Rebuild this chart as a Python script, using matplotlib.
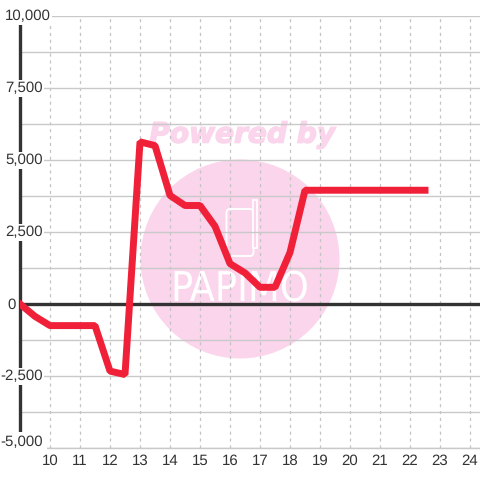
import matplotlib
matplotlib.use("Agg")
import matplotlib.pyplot as plt
import matplotlib.patheffects as pe
from matplotlib.patches import Circle, FancyBboxPatch, Rectangle

plt.rcParams['font.family'] = ['Liberation Sans', 'DejaVu Sans']
plt.rcParams['text.hinting'] = 'none'

x_values = [9, 9.5, 10, 10.5, 11, 11.5, 12, 12.5, 13, 13.5, 14, 14.5, 15, 15.5, 16, 16.5,
            17, 17.5, 18, 18.5, 19, 19.5, 20, 20.5, 21, 21.5, 22, 22.5]
y_values = [0, -430, -750, -750, -750, -750, -2330, -2450, 5630, 5500, 3770, 3420, 3420, 2700,
            1400, 1080, 580, 580, 1790, 3950, 3950, 3950, 3950, 3950, 3950, 3950, 3950, 3950]
x_ticks = list(range(10, 25))
y_grid = [-5000, -3750, -2500, -1250, 0, 1250, 2500, 3750, 5000, 6250, 7500, 8750, 10000]
y_label_values = [10000, 7500, 5000, 2500, 0, -2500, -5000]
y_label_texts = ['10,000', '7,500', '5,000', '2,500', '0', '-2,500', '-5,000']

W = 480.0
fig = plt.figure(figsize=(4.8, 4.8), dpi=100, facecolor='white')
ax = fig.add_axes([20 / W, 1 - 448 / W, 460 / W, 432 / W])
ax.set_zorder(5)
ax.patch.set_visible(False)
ax.set_xlim(9, 9 + 460 / 30)
ax.set_ylim(-5000, 10000)

# watermark
T = fig.transFigure
def fx(p): return p / W
def fy(p): return 1 - p / W
pink = '#fbd5ec'
fig.patches.append(Circle((fx(240), fy(259)), 99.5 / W, transform=T, fc=pink, ec='none', zorder=1))
fig.patches.append(FancyBboxPatch((fx(226.5), fy(256)), 27 / W, 47 / W, boxstyle='round,pad=0,rounding_size=0.008',
                                  transform=T, fc='none', ec='white', lw=1.4, zorder=2))
fig.patches.append(Rectangle((fx(253), fy(248)), 4 / W, 48 / W, transform=T, fc=pink, ec='white', lw=1.2, zorder=2))
fig.text(fx(242), fy(135), 'Powered by', color=pink, fontsize=20.2, fontweight='bold', fontstyle='italic',
         family='DejaVu Sans', ha='center', va='center', zorder=2,
         path_effects=[pe.withStroke(linewidth=1.0, foreground=pink)])
fig.text(fx(240), fy(290), 'PAPIMO', color='white', fontsize=29.5, family='DejaVu Sans', fontweight='light',
         ha='center', va='center', stretch='condensed', zorder=2)

# axes and grid
ax.set_axisbelow(True)
ax.set_xticks(x_ticks, [str(t) for t in x_ticks])
ax.set_yticks(y_grid, [''] * len(y_grid))
ax.grid(axis='y', color='#c9c9c9', lw=1.0)
ax.grid(axis='x', color='#c4c4c4', lw=0.9, ls=(0, (2.5, 3)))
ax.tick_params(axis='both', length=0)
ax.tick_params(axis='x', labelsize=10.8, labelcolor='#333333', pad=4.5)
for s in ['top', 'right']:
    ax.spines[s].set_visible(False)
ax.spines['bottom'].set_color('#c9c9c9')
ax.spines['bottom'].set_linewidth(1.0)
ax.spines['left'].set_color('#333333')
ax.spines['left'].set_linewidth(2.4)
ax.spines['left'].set_zorder(2.6)
ax.axhline(0, color='#333333', lw=2.4, zorder=2.6)

ax.plot(x_values, y_values, color='#f02038', lw=5.0, solid_joinstyle='bevel', solid_capstyle='projecting', zorder=3)

# y labels, with white boxes masking axis and grid
label_right = {10000: 51, 7500: 43, 5000: 43, 2500: 43, 0: 16, -2500: 43, -5000: 43}
for v, t in zip(y_label_values, y_label_texts):
    dy = 4.5 if v == -5000 else 0
    pad = 2.6 if v == -5000 else 1.0
    ax.annotate(t, xy=(9, v), xycoords='data', xytext=((label_right[v] - 20) * 0.72, dy - 0.5),
                textcoords='offset points', ha='right', va='center', fontsize=10.8, color='#333333',
                zorder=4, annotation_clip=False, bbox=dict(fc='white', ec='none', pad=pad))

fig.savefig('out.png', dpi=100)
